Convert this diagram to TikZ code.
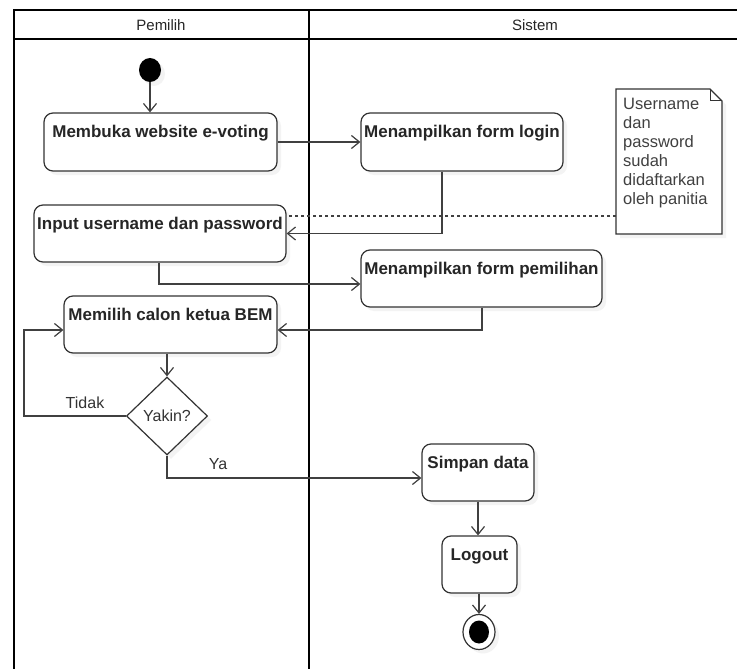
\documentclass[tikz,border=0pt]{standalone}
\usepackage{fontspec}
\setmainfont{Liberation Sans}
\usetikzlibrary{arrows.meta,shadows,shapes.geometric}
\begin{document}
\begin{tikzpicture}[x=1pt,y=-1pt,
  lane/.style={line width=2.6pt, black, line cap=rect},
  shad/.style={drop shadow={shadow xshift=4pt, shadow yshift=-4pt, fill=black!9}},
  act/.style={draw=black!80, line width=1.2pt, rounded corners=9pt, fill=white, shad, inner sep=0pt},
  acttext/.style={font=\bfseries\fontsize{17}{20}\selectfont, anchor=base, text=black!85, inner sep=0pt},
  flow/.style={draw=black!75, line width=1.2pt, -{Straight Barb[length=8pt,width=13pt]}},
  plain/.style={font=\fontsize{16}{19}\selectfont, text=black!80, inner sep=0pt},
  header/.style={font=\fontsize{15}{18}\selectfont, text=black!85, inner sep=0pt},
]
\useasboundingbox (0,0) rectangle (737,669);
\fill[white] (0,0) rectangle (737,669);

% swimlanes
\draw[lane] (14,10) -- (737,10);
\draw[lane] (14,39) -- (737,39);
\draw[lane] (14,10) -- (14,669);
\draw[lane] (309,10) -- (309,669);
\node[header] (h1) at (161,25) {Pemilih};
\node[header] (h2) at (535,25) {Sistem};

% initial
\node[ellipse, fill=black, minimum width=22pt, minimum height=24pt, inner sep=0pt, shad] (init) at (150,70) {};

% activities
\node[act, minimum width=233pt, minimum height=58pt] (b1) at (160.5,142) {};
\node[acttext] (t1) at ([yshift=-25pt]b1.north) {Membuka website e-voting};
\node[act, minimum width=202pt, minimum height=58pt] (b2) at (462,142) {};
\node[acttext] (t2) at ([yshift=-25pt]b2.north) {Menampilkan form login};
\node[act, minimum width=252pt, minimum height=57pt] (b3) at (160,233.5) {};
\node[acttext] (t3) at ([yshift=-25pt]b3.north) {Input username dan password};
\node[act, minimum width=241pt, minimum height=57pt] (b4) at (481.5,278.5) {};
\node[acttext] (t4) at ([yshift=-25pt]b4.north) {Menampilkan form pemilihan};
\node[act, minimum width=213pt, minimum height=57pt] (b5) at (170.5,324.5) {};
\node[acttext] (t5) at ([yshift=-25pt]b5.north) {Memilih calon ketua BEM};
\node[diamond, draw=black!80, line width=1.2pt, fill=white, shad, minimum width=81pt, minimum height=78pt, inner sep=0pt, plain] (dec) at (167,416) {Yakin?};
\node[act, minimum width=112pt, minimum height=57pt] (b6) at (478,472.5) {};
\node[acttext] (t6) at ([yshift=-25pt]b6.north) {Simpan data};
\node[act, minimum width=75pt, minimum height=57pt] (b7) at (479.5,564.5) {};
\node[acttext] (t7) at ([yshift=-25pt]b7.north) {Logout};

% final
\node[ellipse, draw=black!80, line width=1.2pt, fill=white, shad, minimum width=32pt, minimum height=35pt, inner sep=0pt] (final) at (479,632) {};
\node[ellipse, fill=black, minimum width=20pt, minimum height=23pt, inner sep=0pt] (finalin) at (final.center) {};

% note
\draw[draw=black!80, line width=1.2pt, fill=white, shad] (616,89) -- (710,89) -- (722,101) -- (722,234) -- (616,234) -- cycle;
\draw[draw=black!80, line width=1pt] (710,89) -- (710,101) -- (722,101);
\coordinate (notew) at (616,216);
\node[plain, align=left, anchor=north west, text=black!75, font=\fontsize{16.5}{19}\selectfont] (nt) at (623,98) {Username\\dan\\password\\sudah\\didaftarkan\\oleh panitia};

% connectors
\draw[flow] (init.south) -- (init.south |- b1.north);
\draw[flow] (b1.east) -- (b2.west);
\draw[flow] ([xshift=-20pt]b2.south) |- (b3.east);
\draw[draw=black!75, line width=1.2pt, dash pattern=on 3pt off 3pt] (notew) -- ([yshift=17.5pt]b3.east);
\draw[flow] ([xshift=-1pt]b3.south) |- ([yshift=-5.5pt]b4.west);
\draw[flow] ([xshift=0.5pt]b4.south) |- ([yshift=-5.5pt]b5.east);
\draw[flow] (b5.south -| dec) -- (dec.north);
\draw[flow] (dec.west) -- ++(-102,0) |- ([yshift=-5.5pt]b5.west);
\draw[flow] (dec.south) |- ([yshift=-5.5pt]b6.west);
\draw[flow] (b6.south) -- (b6.south |- b7.north);
\draw[flow] (b7.south -| final) -- (final.north);

\node[plain] (ltidak) at (85,403) {Tidak};
\node[plain] (lya) at (218,464) {Ya};
\end{tikzpicture}
\end{document}
